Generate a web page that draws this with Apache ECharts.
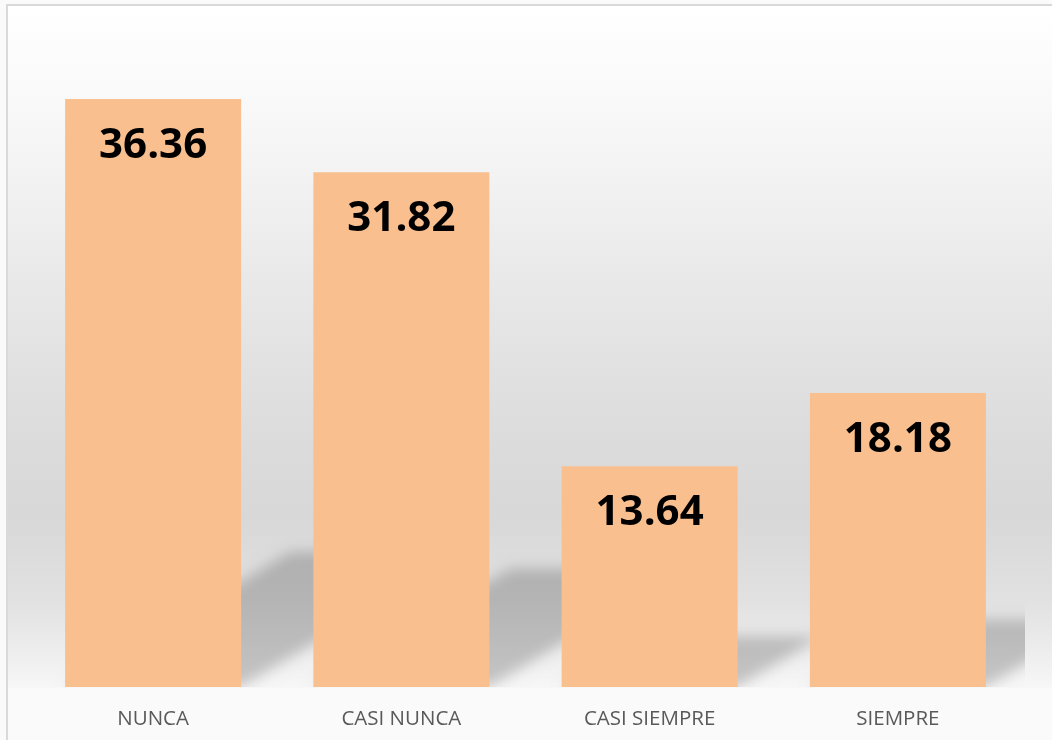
<!DOCTYPE html>
<html>
<head>
<meta charset="utf-8">
<script src="https://cdn.jsdelivr.net/npm/echarts@6/dist/echarts.min.js"></script>
<style>
html,body{margin:0;padding:0;background:#fff;}
#chart{width:1052px;height:740px;}
</style>
</head>
<body>
<div id="chart"></div>
<script>
const categories = ['NUNCA', 'CASI NUNCA', 'CASI SIEMPRE', 'SIEMPRE'];
const values = [36.36, 31.82, 13.64, 18.18];

const chart = echarts.init(document.getElementById('chart'), null, {renderer: 'canvas'});
const OFF = 3000;

const option = {
  animation: false,
  backgroundColor: '#ffffff',
  graphic: [
    {type: 'rect', z: -20, silent: true, shape: {x: 0, y: 0, width: 1052, height: 740}, style: {fill: '#fafafa'}},
    {type: 'rect', z: -19, silent: true, shape: {x: 8, y: 6, width: 1044, height: 682},
      style: {fill: new echarts.graphic.LinearGradient(0, 0, 0, 1, [
        {offset: 0, color: '#ffffff'},
        {offset: 0.14, color: '#f9f9f9'},
        {offset: 0.29, color: '#f0f0f0'},
        {offset: 0.43, color: '#e7e7e7'},
        {offset: 0.65, color: '#dbdbdb'},
        {offset: 0.75, color: '#d8d8d8'},
        {offset: 0.87, color: '#e1e1e1'},
        {offset: 0.94, color: '#ececec'},
        {offset: 1, color: '#f7f7f7'}
      ])}},
    {type: 'rect', z: -18, silent: true, shape: {x: 7, y: 5, width: 1200, height: 900},
      style: {fill: 'none', stroke: '#d9d9d9', lineWidth: 2}}
  ],
  grid: {left: 29, right: 30, top: 40, bottom: 53},
  xAxis: {
    type: 'category',
    data: categories,
    axisLine: {show: false},
    axisTick: {show: false},
    axisLabel: {margin: 22, color: '#595959', fontSize: 20.5, fontFamily: 'Open Sans'}
  },
  yAxis: {
    type: 'value', min: 0, max: 40, interval: 10,
    axisLine: {show: false}, axisTick: {show: false}, axisLabel: {show: false},
    splitLine: {show: false}
  },
  series: [
    {
      type: 'custom',
      z: 1,
      silent: true,
      data: values.map((v, i) => [i, v]),
      encode: {x: 0, y: 1},
      renderItem: function (params, api) {
        const idx = api.value(0);
        const base = api.coord([idx, 0]);
        const top = api.coord([idx, api.value(1)]);
        const bw = 176;
        const h = base[1] - top[1];
        const H = 0.23 * h;
        const dx = H / 0.6;
        const xl = base[0] - bw / 2, xr = base[0] + bw / 2, by = base[1];
        return {
          type: 'group',
          clipPath: {type: 'rect', shape: {x: 8, y: 6, width: 1017, height: by - 6}},
          children: [{
            type: 'polygon',
            shape: {points: [[xl - OFF, by], [xr - OFF, by], [xr + dx - OFF, by - H], [xl + dx - OFF, by - H]]},
            style: {fill: '#000', shadowBlur: 14, shadowColor: 'rgba(0,0,0,0.2)', shadowOffsetX: OFF, shadowOffsetY: 0}
          }]
        };
      }
    },
    {
      type: 'bar',
      z: 2,
      data: values,
      barWidth: 176,
      itemStyle: {color: '#f9bf8f'},
      label: {
        show: true,
        position: 'insideTop',
        distance: 26,
        color: '#000000',
        fontFamily: 'Open Sans',
        fontWeight: 'bold',
        fontSize: 42,
        lineHeight: 42,
        formatter: p => p.value.toFixed(2)
      }
    }
  ]
};
chart.setOption(option);
</script>
</body>
</html>
